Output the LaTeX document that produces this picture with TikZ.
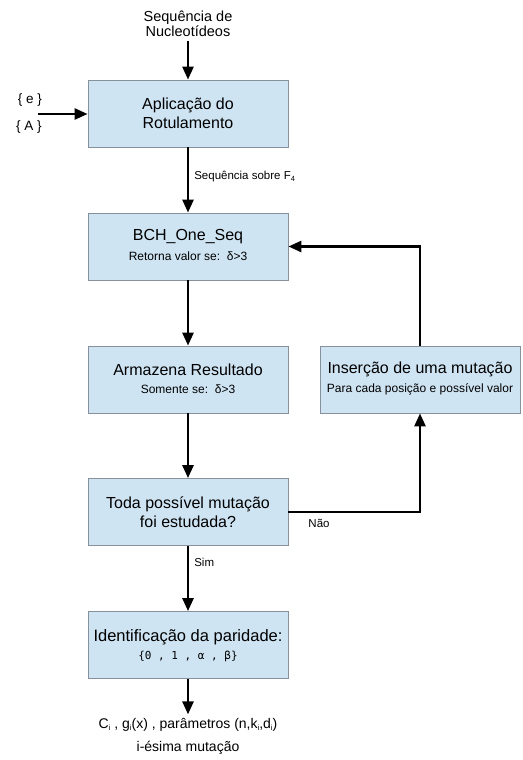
\documentclass[tikz,border=0pt]{standalone}
\usepackage{fontspec}
\setmainfont{Liberation Sans}
\newfontfamily\monofont{DejaVu Sans Mono}
\usetikzlibrary{arrows.meta}
\definecolor{boxbg}{RGB}{207,228,243}
\definecolor{boxline}{RGB}{135,145,155}
\tikzset{
	etapa/.style={draw=boxline,line width=0.8pt,fill=boxbg,minimum width=200pt,minimum height=67pt,inner sep=0pt,align=center},
	fluxo/.style={line width=2.6pt,-{Triangle[length=13pt,width=11pt]}},
	rotulo/.style={font=\fontsize{11.5}{13}\selectfont,inner sep=1pt}
}
\newcommand{\Etapa}[5]{%
	\node[etapa] (#1) at (#2,#3) {};
	\node[font=\fontsize{16}{19}\selectfont] at (#2,#3-10) {#4};
	\node[font=\fontsize{12}{14}\selectfont] at (#2,#3+10) {#5};
}
\newcommand{\ind}[1]{\raisebox{-2pt}{\fontsize{7.5}{8}\selectfont #1}}

\begin{document}
\begin{tikzpicture}[x=1pt,y=-1pt]
	\useasboundingbox (0,0) rectangle (522,760);

	% entradas
	\node[align=center,font=\fontsize{14.5}{15.5}\selectfont] (seq) at (188,24) {Sequência de\\Nucleotídeos};
	\node[font=\fontsize{13.5}{15}\selectfont] (e) at (30,100) {\{ e \}};
	\node[font=\fontsize{13.5}{15}\selectfont] (A) at (29,127) {\{ A \}};
	\coordinate (entra) at (38,114);

	% --- etapas ---
	\node[etapa,font=\fontsize{16}{19}\selectfont] (rot) at (188,113.5) {Aplicação do\\Rotulamento};
	\Etapa{bch}{188}{246.5}{BCH\_One\_Seq}{Retorna valor se:\ \ δ>3}
	\Etapa{arm}{188}{379.5}{Armazena Resultado}{Somente se:\ \ δ>3}
	\Etapa{ins}{420}{379.5}{Inserção de uma mutação}{Para cada posição e possível valor}
	\node[etapa,font=\fontsize{16}{19}\selectfont] (toda) at (188,512) {Toda possível mutação\\foi estudada?};
	\node[etapa] (par) at (188,645) {};
	\node[font=\fontsize{16.5}{19}\selectfont] at (188,637) {Identificação da paridade:};
	\node[font=\monofont\fontsize{11}{13}\selectfont] at (188,656) {\{0 , 1 , α , β\}};

	% saida
	\node[align=center,font=\fontsize{14}{23}\selectfont] (saida) at (188,736)
		{C\ind{i} , g\ind{i}(x) , parâmetros (n,k\ind{i},d\ind{i})\\i-ésima mutação};

	% --- conexoes ---
	\draw[fluxo] (seq) -- (rot);
	\draw[fluxo] (entra) -- (rot.west |- entra);
	\draw[fluxo] (rot) -- node[rotulo,right,pos=0.45,xshift=4pt] {Sequência sobre F\ind{4}} (bch);
	\draw[fluxo] (bch) -- (arm);
	\draw[fluxo] (arm) -- (toda);
	\draw[fluxo] (toda) -- node[rotulo,right,pos=0.25,xshift=4pt] {Sim} (par);
	\draw[fluxo] (par) -- (saida);
	\draw[fluxo] (toda.east) -| (ins.south);
	\node[rotulo] (nao) at (319,523) {Não};
	\draw[fluxo] (ins.north) |- (bch.east);

\end{tikzpicture}
\end{document}
